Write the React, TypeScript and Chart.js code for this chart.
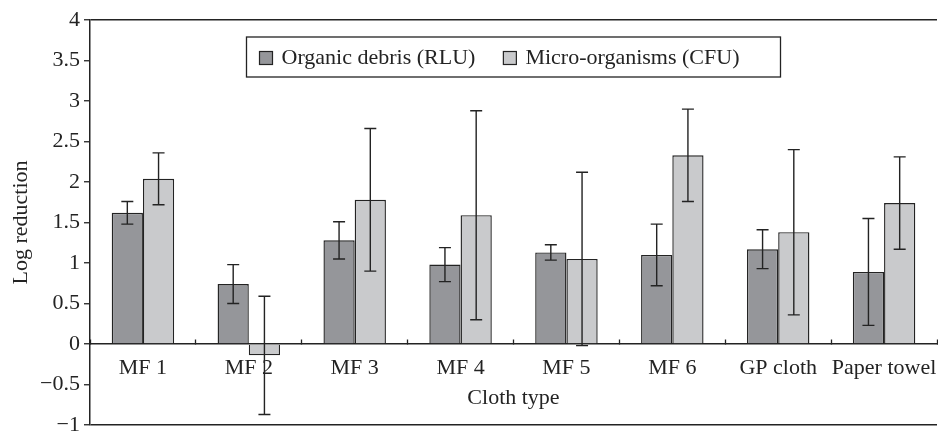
import React, { useEffect, useRef } from "react";
import { Chart, registerables } from "chart.js";

Chart.register(...registerables);

const categories = ["MF 1", "MF 2", "MF 3", "MF 4", "MF 5", "MF 6", "GP cloth", "Paper towel"];
const seriesNames = ["Organic debris (RLU)", "Micro-organisms (CFU)"];
const organicDebris = [1.62, 0.74, 1.28, 0.98, 1.13, 1.1, 1.17, 0.89];
const organicDebrisErr = [0.14, 0.24, 0.23, 0.21, 0.095, 0.38, 0.24, 0.66];
const microOrganisms = [2.04, -0.14, 1.78, 1.59, 1.05, 2.33, 1.38, 1.74];
const microOrganismsErr = [0.32, 0.73, 0.88, 1.29, 1.07, 0.57, 1.02, 0.57];
const yTicks = { min: -1, max: 4, step: 0.5 };
const xTitle = "Cloth type";
const yTitle = "Log reduction";

const FONT = "'Liberation Serif', 'Times New Roman', serif";
const FS = 22;
const INK = "#232323";
const DARK = "#95969a";
const LIGHT = "#c9cacc";

const errorBars = {
  id: "errorBars",
  afterDatasetsDraw(chart: any) {
    const ctx = chart.ctx;
    const yScale = chart.scales.y;
    ctx.save();
    ctx.strokeStyle = INK;
    ctx.lineWidth = 1.4;
    chart.data.datasets.forEach((ds: any, i: number) => {
      const meta = chart.getDatasetMeta(i);
      meta.data.forEach((el: any, j: number) => {
        const v = ds.data[j];
        const e = ds.errors[j];
        const yt = yScale.getPixelForValue(v + e);
        const yb = yScale.getPixelForValue(v - e);
        const x = el.x;
        const cap = 6;
        ctx.beginPath();
        ctx.moveTo(x, yt);
        ctx.lineTo(x, yb);
        ctx.moveTo(x - cap, yt);
        ctx.lineTo(x + cap, yt);
        ctx.moveTo(x - cap, yb);
        ctx.lineTo(x + cap, yb);
        ctx.stroke();
      });
    });
    ctx.restore();
  },
};

const boxedLegend = {
  id: "boxedLegend",
  afterDraw(chart: any) {
    const ctx = chart.ctx;
    const area = chart.chartArea;
    const boxW = 534;
    const boxH = 40;
    const left = (area.left + area.right) / 2 - boxW / 2;
    const top = area.top + 17;
    ctx.save();
    ctx.fillStyle = "#ffffff";
    ctx.fillRect(left, top, boxW, boxH);
    ctx.strokeStyle = INK;
    ctx.lineWidth = 1.3;
    ctx.strokeRect(left, top, boxW, boxH);
    ctx.font = `${FS}px ${FONT}`;
    ctx.textBaseline = "middle";
    ctx.textAlign = "left";
    const cy = top + boxH / 2 + 1;
    let x = left + 13;
    const sq = 13;
    chart.data.datasets.forEach((ds: any) => {
      ctx.fillStyle = ds.backgroundColor;
      ctx.fillRect(x, cy - sq / 2, sq, sq);
      ctx.strokeStyle = INK;
      ctx.lineWidth = 1.2;
      ctx.strokeRect(x, cy - sq / 2, sq, sq);
      x += sq + 9;
      ctx.fillStyle = INK;
      ctx.fillText(ds.label, x, cy);
      x += ctx.measureText(ds.label).width + 28;
    });
    ctx.restore();
  },
};

export default function App() {
  const ref = useRef<HTMLCanvasElement>(null);
  useEffect(() => {
    document.body.style.margin = "0";
    const chart = new Chart(ref.current as HTMLCanvasElement, {
      type: "bar",
      data: {
        labels: categories,
        datasets: [
          {
            label: seriesNames[0],
            data: organicDebris,
            errors: organicDebrisErr,
            backgroundColor: DARK,
            borderColor: INK,
            borderWidth: 1.4,
          } as any,
          {
            label: seriesNames[1],
            data: microOrganisms,
            errors: microOrganismsErr,
            backgroundColor: LIGHT,
            borderColor: INK,
            borderWidth: 1.4,
          } as any,
        ],
      },
      options: {
        animation: false,
        responsive: true,
        maintainAspectRatio: false,
        layout: { padding: { left: 0, right: 1, top: 20, bottom: 8 } },
        datasets: { bar: { categoryPercentage: 0.59, barPercentage: 1.0 } },
        plugins: { legend: { display: false }, tooltip: { enabled: false } },
        scales: {
          x: {
            position: { y: 0 } as any,
            grid: {
              drawOnChartArea: false,
              drawTicks: true,
              tickLength: -5,
              tickColor: INK,
              tickWidth: 1.3,
              offset: true,
            },
            border: { display: true, color: INK, width: 1.5 },
            ticks: {
              color: INK,
              font: { family: FONT, size: FS },
              padding: 16,
              autoSkip: false,
              maxRotation: 0,
            },
            title: {
              display: true,
              text: xTitle,
              color: INK,
              font: { family: FONT, size: FS },
              padding: { top: -12, bottom: 0 },
            },
            afterFit(scale: any) {
              scale.paddingLeft = 0;
              scale.paddingRight = 0;
            },
          },
          y: {
            min: yTicks.min,
            max: yTicks.max,
            ticks: {
              stepSize: yTicks.step,
              color: INK,
              font: { family: FONT, size: FS },
              padding: 4,
              callback: (v: any) => (Number(v) < 0 ? "\u2212" + String(Math.abs(Number(v))) : String(v)),
            },
            grid: {
              drawTicks: true,
              tickLength: 6,
              tickColor: INK,
              tickWidth: 1.3,
              lineWidth: 1.5,
              color: (c: any) => (c.tick && (c.tick.value === yTicks.max || c.tick.value === yTicks.min) ? INK : "rgba(0,0,0,0)"),
            },
            border: { display: true, color: INK, width: 1.5 },
            title: {
              display: true,
              text: yTitle,
              color: INK,
              font: { family: FONT, size: FS },
              padding: { top: 8, bottom: 0 },
            },
            afterFit(scale: any) {
              scale.width = 90;
              scale.paddingTop = 0;
              scale.paddingBottom = 0;
            },
          },
        },
      },
      plugins: [errorBars, boxedLegend],
    } as any);
    return () => chart.destroy();
  }, []);
  return (
    <div style={{ width: "938px", height: "433px", position: "relative" }}>
      <canvas ref={ref} />
    </div>
  );
}
